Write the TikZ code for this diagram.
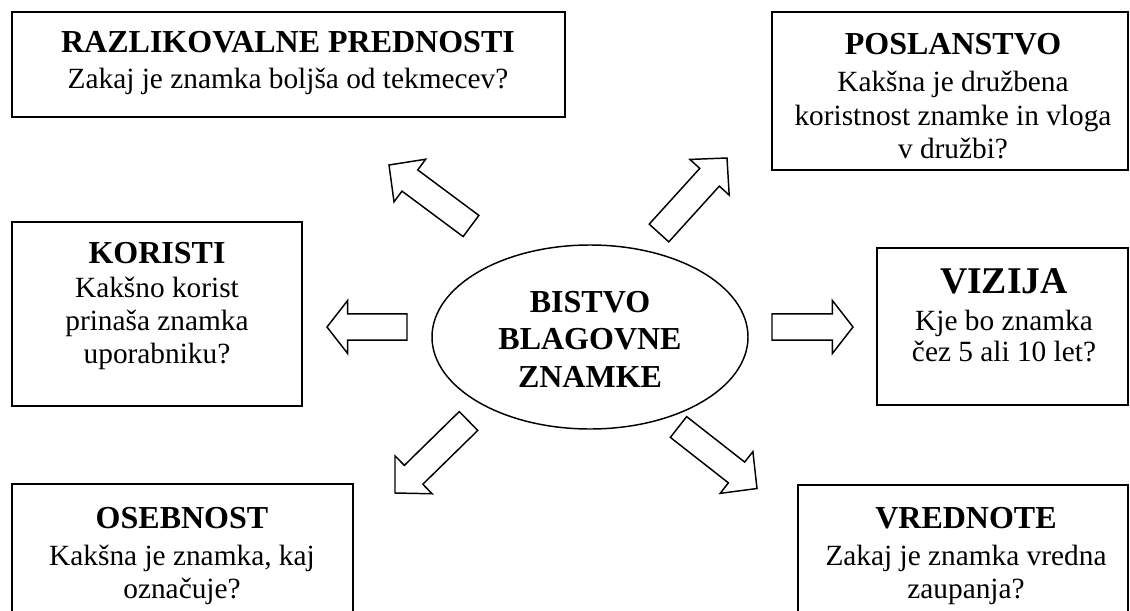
\documentclass[tikz,border=0pt]{standalone}
\usepackage{fontspec}
\setmainfont{Liberation Serif}
\usetikzlibrary{calc,shapes.geometric}

% block arrow from a named tail coordinate to a named tip coordinate
% #1 tail, #2 tip, #3 head length
\newcommand\blockarrow[3]{%
  \coordinate (#1-hb) at ($(#2)!#3!(#1)$);
  \draw[barrow]
    ($(#1)!9.9pt!90:(#2)$) -- ($(#1-hb)!9.9pt!90:(#2)$) --
    ($(#1-hb)!19.9pt!90:(#2)$) -- (#2) --
    ($(#1-hb)!19.9pt!-90:(#2)$) -- ($(#1-hb)!9.9pt!-90:(#2)$) --
    ($(#1)!9.9pt!-90:(#2)$) -- cycle;
}

\begin{document}
\begin{tikzpicture}[x=0.75pt,y=-0.75pt,
  box/.style={draw, line width=1.5pt, inner sep=0pt},
  hub/.style={draw, ellipse, line width=1.1pt, inner sep=0pt,
    minimum width=237pt, minimum height=138pt},
  ttl/.style={anchor=base, inner sep=0pt, font=\fontsize{24}{28}\selectfont\bfseries},
  bigttl/.style={anchor=base, inner sep=0pt, font=\fontsize{28.3}{32}\selectfont\bfseries},
  sub/.style={anchor=base, inner sep=0pt, font=\fontsize{22}{26}\selectfont},
  barrow/.style={draw, line width=1.1pt, line join=miter, fill=white}
]
\useasboundingbox (0,0) rectangle (1130,610);

% boxes
\node[box, minimum width=414.75pt, minimum height=78.75pt] (razl) at (288.5,64.5) {};
\node[box, minimum width=267pt, minimum height=118.5pt] (posl) at (950,91) {};
\node[box, minimum width=217.5pt, minimum height=138pt] (kor) at (157,314) {};
\node[box, minimum width=188.25pt, minimum height=117.75pt] (viz) at (1002.5,326.5) {};
\node[box, minimum width=255.75pt, minimum height=117pt] (oseb) at (182.5,562) {};
\node[box, minimum width=247.5pt, minimum height=116.25pt] (vred) at (963,562.5) {};

% central ellipse
\node[hub] (bistvo) at (590,337) {};
\node[ttl] (b1) at (590,312) {BISTVO};
\node[ttl] (b2) at (590,349) {BLAGOVNE};
\node[ttl] (b3) at (590,387) {ZNAMKE};

% texts
\node[ttl] (razl1) at (288,53) {RAZLIKOVALNE PREDNOSTI};
\node[sub] (razl2) at (288,89) {Zakaj je znamka boljša od tekmecev?};

\node[ttl] (posl1) at (953,55) {POSLANSTVO};
\node[sub] (posl2) at (953,91) {Kakšna je družbena};
\node[sub] (posl3) at (953,125) {koristnost znamke in vloga};
\node[sub] (posl4) at (953,158) {v družbi?};

\node[ttl] (kor1) at (157,263) {KORISTI};
\node[sub] (kor2) at (157,297) {Kakšno korist};
\node[sub] (kor3) at (157,330) {prinaša znamka};
\node[sub] (kor4) at (157,363) {uporabniku?};

\node[bigttl] (viz1) at (1004,293) {VIZIJA};
\node[sub] (viz2) at (1004,330) {Kje bo znamka};
\node[sub] (viz3) at (1004,361) {čez 5 ali 10 let?};

\node[ttl] (oseb1) at (182,528) {OSEBNOST};
\node[sub] (oseb2) at (182,565) {Kakšna je znamka, kaj};
\node[sub] (oseb3) at (182,598) {označuje?};

\node[ttl] (vred1) at (966,528) {VREDNOTE};
\node[sub] (vred2) at (966,565) {Zakaj je znamka vredna};
\node[sub] (vred3) at (966,598) {zaupanja?};

% arrow ends
\coordinate (al) at (407,327);   \coordinate (alt) at (327,327);
\coordinate (ar) at (772,327);   \coordinate (art) at (853,327);
\coordinate (aul) at (471,226);  \coordinate (ault) at (389,165);
\coordinate (aur) at (659,233);  \coordinate (aurt) at (727,158);
\coordinate (adl) at (468.5,421); \coordinate (adlt) at (395,493);
\coordinate (adr) at (678.5,427); \coordinate (adrt) at (757,488.5);

\blockarrow{al}{alt}{15.5pt}
\blockarrow{ar}{art}{15.5pt}
\blockarrow{aul}{ault}{19.5pt}
\blockarrow{aur}{aurt}{19.5pt}
\blockarrow{adl}{adlt}{19.5pt}
\blockarrow{adr}{adrt}{19.5pt}
\end{tikzpicture}
\end{document}
